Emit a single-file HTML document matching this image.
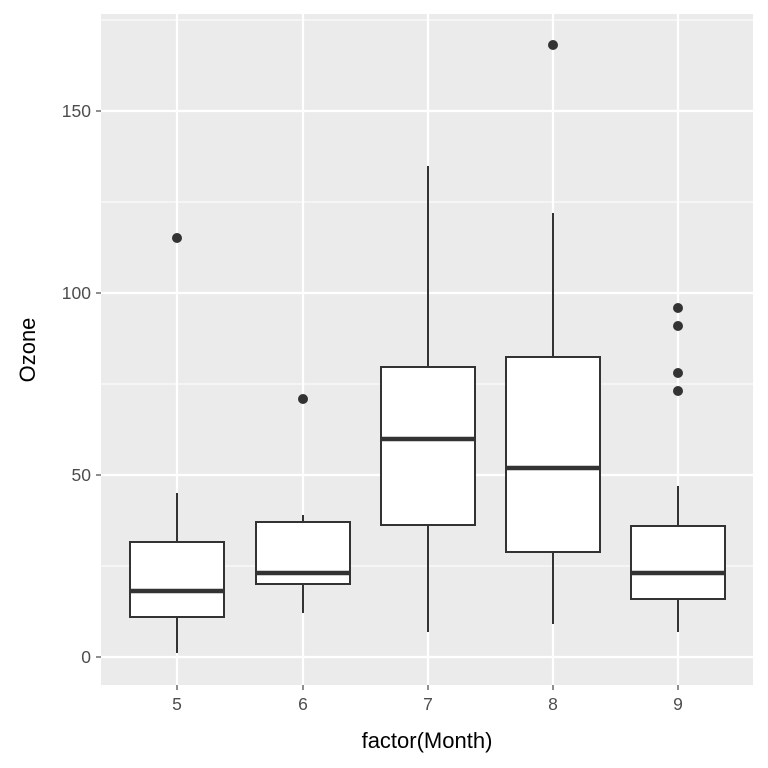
<!DOCTYPE html>
<html><head><style>body{margin:0;background:#fff}svg{display:block}</style></head><body>
<svg width="768" height="768" viewBox="0 0 768 768" xmlns="http://www.w3.org/2000/svg" font-family="Liberation Sans, sans-serif">
<rect x="101" y="14" width="652" height="671" fill="#EBEBEB"/>
<g stroke="#fff" stroke-width="1.1">
<line x1="101" x2="753" y1="566" y2="566"/><line x1="101" x2="753" y1="384" y2="384"/><line x1="101" x2="753" y1="202" y2="202"/><line x1="101" x2="753" y1="20" y2="20"/>
</g>
<g stroke="#fff" stroke-width="2.2">
<line x1="101" x2="753" y1="657" y2="657"/><line x1="101" x2="753" y1="475" y2="475"/><line x1="101" x2="753" y1="293" y2="293"/><line x1="101" x2="753" y1="111" y2="111"/>
<line x1="177" x2="177" y1="14" y2="685"/><line x1="303" x2="303" y1="14" y2="685"/><line x1="428" x2="428" y1="14" y2="685"/><line x1="553" x2="553" y1="14" y2="685"/><line x1="678" x2="678" y1="14" y2="685"/>
</g>
<g stroke="#333" stroke-width="2" fill="#fff">
<line x1="177" x2="177" y1="653" y2="493"/><rect x="130" y="542" width="94" height="75"/>
<line x1="303" x2="303" y1="613" y2="515"/><rect x="256" y="522" width="94" height="62"/>
<line x1="428" x2="428" y1="632" y2="166"/><rect x="381" y="367" width="94" height="158"/>
<line x1="553" x2="553" y1="624" y2="213"/><rect x="506" y="357" width="94" height="195"/>
<line x1="678" x2="678" y1="632" y2="486"/><rect x="631" y="526" width="94" height="73"/>
</g>
<g stroke="#333" stroke-width="4.5">
<line x1="130" x2="224" y1="591" y2="591"/><line x1="256" x2="350" y1="573" y2="573"/><line x1="381" x2="475" y1="439" y2="439"/><line x1="506" x2="600" y1="468" y2="468"/><line x1="631" x2="725" y1="573" y2="573"/>
</g>
<g fill="#333">
<circle cx="177" cy="238" r="5"/><circle cx="303" cy="399" r="5"/><circle cx="553" cy="45" r="5"/>
<circle cx="678" cy="391" r="5"/><circle cx="678" cy="373" r="5"/><circle cx="678" cy="326" r="5"/><circle cx="678" cy="308" r="5"/>
</g>
<g stroke="#333" stroke-width="1.1">
<line x1="96" x2="101" y1="657" y2="657"/><line x1="96" x2="101" y1="475" y2="475"/><line x1="96" x2="101" y1="293" y2="293"/><line x1="96" x2="101" y1="111" y2="111"/>
<line x1="177" x2="177" y1="685" y2="690"/><line x1="303" x2="303" y1="685" y2="690"/><line x1="428" x2="428" y1="685" y2="690"/><line x1="553" x2="553" y1="685" y2="690"/><line x1="678" x2="678" y1="685" y2="690"/>
</g>
<g fill="#4D4D4D" font-size="17.5" text-anchor="end">
<text x="91" y="663">0</text><text x="91" y="481">50</text><text x="91" y="299">100</text><text x="91" y="117">150</text>
</g>
<g fill="#4D4D4D" font-size="17.5" text-anchor="middle">
<text x="177" y="710">5</text><text x="303" y="710">6</text><text x="428" y="710">7</text><text x="553" y="710">8</text><text x="678" y="710">9</text>
</g>
<text x="427" y="748" font-size="22" text-anchor="middle" fill="#000">factor(Month)</text>
<text transform="translate(35,350) rotate(-90)" font-size="22" text-anchor="middle" fill="#000">Ozone</text>
</svg>
</body></html>
